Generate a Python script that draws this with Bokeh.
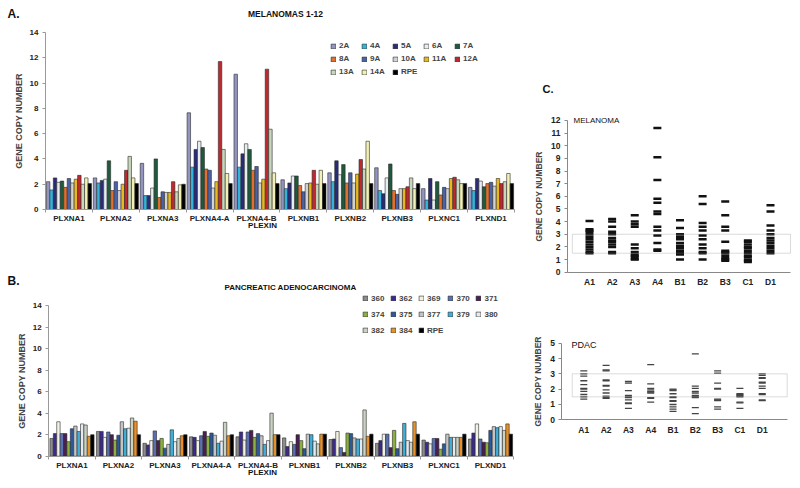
from bokeh.plotting import figure
from bokeh.models import Range1d, Label, BoxAnnotation, FixedTicker, ColumnDataSource
from bokeh.transform import dodge
from bokeh.layouts import row, column
from bokeh.embed import file_html
from bokeh.resources import INLINE

FONT = "Liberation Sans"

# ---------------- Panel A / B categories ----------------
genes = ["PLXNA1", "PLXNA2", "PLXNA3", "PLXNA4-A", "PLXNA4-B",
         "PLXNB1", "PLXNB2", "PLXNB3", "PLXNC1", "PLXND1"]

# ---------------- Panel A: melanomas ----------------
mel_samples = ["2A", "4A", "5A", "6A", "7A", "8A", "9A", "10A", "11A", "12A", "13A", "14A", "RPE"]
mel_colors = ["#9494c0", "#34b4dc", "#2a2c78", "#e6eef2", "#1f5a3c", "#e0702e",
              "#4a62a8", "#d2d2d2", "#e8b820", "#c0282f", "#c8d6bc", "#f2f0b4", "#000000"]
mel_2A = [2.2, 2.5, 3.65, 7.65, 10.7, 2.35, 2.9, 3.3, 1.65, 1.75]
mel_4A = [1.55, 2.1, 1.1, 3.35, 3.35, 1.65, 2.2, 1.5, 0.75, 1.5]
mel_5A = [2.5, 2.3, 1.1, 4.75, 4.4, 2.1, 3.85, 1.25, 2.45, 2.45]
mel_6A = [2.15, 2.4, 1.7, 5.4, 5.2, 2.65, 2.75, 2.5, 0.75, 2.25]
mel_7A = [2.25, 3.85, 4.0, 4.9, 4.75, 2.65, 3.55, 3.6, 2.2, 1.8]
mel_8A = [1.75, 1.5, 0.95, 3.2, 3.1, 1.9, 2.1, 1.5, 1.15, 2.05]
mel_9A = [2.45, 2.2, 1.4, 3.1, 3.4, 1.4, 2.9, 1.2, 1.75, 2.15]
mel_10A = [2.1, 1.5, 1.35, 1.7, 2.1, 2.05, 2.1, 1.65, 1.65, 1.85]
mel_11A = [2.4, 2.0, 1.35, 2.2, 2.4, 2.1, 2.8, 1.65, 2.45, 2.45]
mel_12A = [2.7, 3.1, 2.2, 11.7, 11.1, 3.1, 3.95, 1.8, 2.55, 2.05]
mel_13A = [2.0, 4.2, 1.4, 4.75, 6.35, 2.0, 3.2, 2.5, 2.35, 2.2]
mel_14A = [2.5, 2.5, 1.95, 2.85, 2.9, 3.1, 5.4, 1.65, 2.05, 2.85]
mel_RPE = [2.05, 2.05, 2.0, 2.05, 2.05, 2.05, 2.05, 2.05, 2.05, 2.05]
mel_values = [mel_2A, mel_4A, mel_5A, mel_6A, mel_7A, mel_8A, mel_9A,
              mel_10A, mel_11A, mel_12A, mel_13A, mel_14A, mel_RPE]

# ---------------- Panel B: pancreatic adenocarcinoma ----------------
pdac_samples = ["360", "362", "369", "370", "371", "374", "375", "377", "379", "380", "382", "384", "RPE"]
pdac_colors = ["#8c8c8c", "#3c2a8e", "#f2f2e4", "#5a70b0", "#4a2050", "#8cb040",
               "#2a5a9c", "#c4c4c4", "#40b0d8", "#e2eaf2", "#cad2c2", "#e8902a", "#000000"]
pdac_360 = [1.65, 2.3, 1.2, 1.8, 1.8, 1.7, 1.55, 1.2, 1.5, 1.6]
pdac_362 = [2.1, 2.3, 1.05, 1.75, 2.25, 0.9, 1.6, 1.45, 1.3, 2.15]
pdac_369 = [3.2, 1.75, 1.45, 1.45, 1.5, 1.35, 2.3, 2.05, 1.15, 3.0]
pdac_370 = [2.1, 2.25, 2.35, 1.9, 2.25, 1.1, 0.8, 2.05, 1.65, 1.6]
pdac_371 = [2.1, 2.0, 1.45, 2.3, 2.4, 2.0, 0.35, 0.8, 1.65, 1.3]
pdac_374 = [1.35, 1.5, 1.65, 1.85, 1.75, 1.45, 2.15, 2.4, 0.65, 1.25]
pdac_375 = [2.55, 1.95, 0.75, 2.15, 2.1, 0.7, 2.1, 0.7, 1.15, 2.4]
pdac_377 = [2.8, 3.2, 1.1, 1.95, 1.9, 2.05, 1.7, 1.3, 2.05, 2.75]
pdac_379 = [2.3, 2.55, 2.45, 1.2, 1.1, 2.0, 1.6, 3.05, 1.75, 2.65]
pdac_380 = [3.0, 2.6, 1.35, 1.4, 1.45, 1.4, 1.6, 1.45, 1.75, 2.75]
pdac_382 = [2.9, 3.55, 1.65, 3.15, 4.0, 1.15, 4.3, 1.3, 1.75, 2.4]
pdac_384 = [1.85, 3.25, 1.9, 1.9, 2.0, 2.05, 1.85, 3.2, 1.75, 3.0]
pdac_RPE = [2.0, 2.0, 2.0, 2.0, 2.0, 2.05, 2.05, 2.05, 2.05, 2.05]
pdac_values = [pdac_360, pdac_362, pdac_369, pdac_370, pdac_371, pdac_374, pdac_375,
               pdac_377, pdac_379, pdac_380, pdac_382, pdac_384, pdac_RPE]

# ---------------- Panel C: dash plots ----------------
c_cats = ["A1", "A2", "A3", "A4", "B1", "B2", "B3", "C1", "D1"]
melC_A1 = [4.05, 3.4, 3.3, 3.2, 3.0, 2.8, 2.6, 2.4, 2.2, 2.0, 1.8, 1.6, 1.5]
melC_A2 = [4.2, 4.0, 3.6, 3.2, 3.0, 2.7, 2.5, 2.4, 2.2, 2.0, 1.6, 1.5]
melC_A3 = [4.5, 4.0, 3.8, 3.6, 2.2, 1.9, 1.6, 1.4, 1.3, 1.2, 1.05, 1.0]
melC_A4 = [11.4, 9.1, 7.3, 5.8, 5.5, 4.8, 4.6, 3.6, 3.3, 2.9, 2.3, 1.8, 1.7]
melC_B1 = [4.1, 3.5, 3.0, 2.8, 2.6, 2.3, 2.1, 1.9, 1.7, 1.5, 1.4, 1.0]
melC_B2 = [6.0, 5.4, 3.9, 3.6, 3.3, 2.9, 2.6, 2.2, 1.9, 1.6, 1.5, 1.0]
melC_B3 = [5.6, 4.5, 3.6, 3.3, 2.4, 1.7, 1.6, 1.5, 1.3, 1.1, 1.0, 0.9]
melC_C1 = [2.5, 2.4, 2.2, 2.0, 1.9, 1.7, 1.5, 1.3, 1.2, 1.0, 0.9, 0.8]
melC_D1 = [5.3, 4.8, 3.7, 3.3, 3.0, 2.7, 2.5, 2.3, 2.1, 1.9, 1.7, 1.5]
melC = [melC_A1, melC_A2, melC_A3, melC_A4, melC_B1, melC_B2, melC_B3, melC_C1, melC_D1]

pdacC_A1 = [3.2, 3.0, 2.85, 2.55, 2.3, 2.05, 2.0, 1.85, 1.65, 1.5, 1.35]
pdacC_A2 = [3.55, 3.25, 3.2, 2.6, 2.55, 2.25, 2.2, 1.95, 1.75, 1.55, 1.45, 1.4]
pdacC_A3 = [2.5, 2.4, 1.9, 1.6, 1.5, 1.45, 1.3, 1.1, 1.05, 0.75]
pdacC_A4 = [3.6, 2.35, 2.05, 1.95, 1.85, 1.8, 1.75, 1.45, 1.4, 1.15]
pdacC_B1 = [2.0, 1.95, 1.9, 1.7, 1.5, 1.45, 1.25, 1.2, 1.0, 0.85, 0.7, 0.55]
pdacC_B2 = [4.3, 2.2, 2.05, 1.85, 1.75, 1.6, 1.55, 1.5, 1.45, 0.8, 0.4]
pdacC_B3 = [3.2, 3.05, 2.4, 2.05, 2.0, 1.35, 1.3, 1.25, 0.85, 0.7]
pdacC_C1 = [2.05, 1.7, 1.65, 1.6, 1.55, 1.5, 1.15, 1.1, 0.75]
pdacC_D1 = [3.0, 2.9, 2.75, 2.7, 2.45, 2.4, 2.2, 2.05, 1.7, 1.65, 1.3, 1.25]
pdacC = [pdacC_A1, pdacC_A2, pdacC_A3, pdacC_A4, pdacC_B1, pdacC_B2, pdacC_B3, pdacC_C1, pdacC_D1]

normal_low, normal_high = 1.5, 3.0


def make_fig(width, height, xr, yr):
    p = figure(width=width, height=height, x_range=Range1d(*xr), y_range=Range1d(*yr),
               output_backend="svg", toolbar_location=None,
               min_border_left=0, min_border_right=0, min_border_top=0, min_border_bottom=0)
    p.outline_line_color = None
    p.xgrid.grid_line_color = None
    p.ygrid.grid_line_color = None
    p.background_fill_color = "white"
    p.border_fill_color = "white"
    return p


def add_label(p, x, y, text, size="8px", style="bold", align="left"):
    p.add_layout(Label(x=x, y=y, x_units="screen", y_units="screen", text=text,
                       text_font=FONT, text_font_size=size, text_font_style=style,
                       text_align=align, text_baseline="middle", text_color="#111111"))


def style_axes(p, label_size, axis_color, ylabel_size):
    for ax in (p.xaxis[0], p.yaxis[0]):
        ax.axis_line_color = axis_color
        ax.major_label_text_font = FONT
        ax.major_label_text_font_style = "bold"
        ax.major_label_text_font_size = label_size
        ax.major_label_text_color = "#222222"
    p.yaxis.axis_label = "GENE COPY NUMBER"
    p.yaxis.axis_label_text_font = FONT
    p.yaxis.axis_label_text_font_style = "bold"
    p.yaxis.axis_label_text_font_size = ylabel_size
    p.yaxis.major_tick_out = 3
    p.yaxis.major_tick_in = 0
    p.yaxis.major_tick_line_color = axis_color
    p.yaxis.minor_tick_line_color = None
    p.xaxis.major_tick_line_color = None
    p.xaxis.major_tick_out = 0
    p.xaxis.major_tick_in = 0


def bar_panel(samples, colors, values, height, xr, yr, bar_w):
    p = make_fig(532, height, xr, yr)
    gx = list(range(len(genes)))
    data = {"gx": gx}
    for s, v in zip(samples, values):
        data[s] = v
    src = ColumnDataSource(data)
    n = len(samples)
    for i, (s, c) in enumerate(zip(samples, colors)):
        off = (i - (n - 1) / 2) * bar_w
        p.vbar(x=dodge("gx", off, range=p.x_range), top=s, width=bar_w, source=src,
               fill_color=c, line_color="#2a2a2a", line_width=0.6, legend_label=s)
    p.xaxis.ticker = FixedTicker(ticks=gx, minor_ticks=[g - 0.5 for g in gx] + [gx[-1] + 0.5])
    p.xaxis.major_label_overrides = {g: name for g, name in zip(gx, genes)}
    p.xaxis.fixed_location = 0
    p.xaxis.bounds = (gx[0] - 0.5, gx[-1] + 0.5)
    p.yaxis.ticker = FixedTicker(ticks=[0, 2, 4, 6, 8, 10, 12, 14])
    p.yaxis.fixed_location = gx[0] - 0.5
    p.yaxis.bounds = (0, 14)
    style_axes(p, "8px", "#999999", "9px")
    p.xaxis.minor_tick_out = 3
    p.xaxis.minor_tick_in = 0
    p.xaxis.minor_tick_line_color = "#999999"
    p.xaxis.major_label_standoff = 2
    p.yaxis.major_label_standoff = 4
    p.yaxis.axis_label_standoff = 3
    lg = p.legend[0]
    lg.orientation = "horizontal"
    lg.ncols = 5
    lg.background_fill_alpha = 0
    lg.border_line_color = None
    lg.padding = 0
    lg.margin = 0
    lg.glyph_width = 6
    lg.glyph_height = 6
    lg.label_standoff = 3
    lg.label_text_font = FONT
    lg.label_text_font_style = "bold"
    lg.label_text_font_size = "8px"
    return p


# Panel A  (page 0..532 x 0..240)
pA = bar_panel(mel_samples, mel_colors, mel_values, 240,
               (-1.4595, 9.884), (-2.452, 16.531), 0.074)
pA.legend.spacing = 4
pA.legend.label_height = 9
pA.legend.label_width = 18
pA.legend.location = (330, 164)
add_label(pA, 7, 227, "A.", size="12px")
add_label(pA, 285, 227, "MELANOMAS 1-12", size="8.5px", align="center")
add_label(pA, 262, 15, "PLEXIN", size="8px", align="center")

# Panel B  (page 0..532 x 240..488)
pB = bar_panel(pdac_samples, pdac_colors, pdac_values, 248,
               (-1.5376, 9.903), (-3.0, 20.04), 0.073)
pB.legend.spacing = 4
pB.legend.label_height = 12
pB.legend.label_width = 15
pB.legend.location = (362, 152)
add_label(pB, 7, 208, "B.", size="12px")
add_label(pB, 290, 201, "PANCREATIC ADENOCARCINOMA", size="8px", align="center")
add_label(pB, 262, 16, "PLEXIN", size="8px", align="center")


def dash_panel(height, xr, yr, ymax, ax_left, ax_right, box_left, values, dash_w, dash_h, dash_color):
    p = make_fig(268, height, xr, yr)
    cx = list(range(len(c_cats)))
    xs, ys = [], []
    for x, vals in zip(cx, values):
        xs += [x] * len(vals)
        ys += vals
    p.rect(x=xs, y=ys, width=dash_w, height=dash_h, width_units="screen", height_units="screen",
           fill_color=dash_color, line_color=None)
    p.add_layout(BoxAnnotation(left=box_left, right=ax_right, bottom=normal_low, top=normal_high,
                               fill_alpha=0, line_color="#888888", line_width=1))
    p.xaxis.ticker = FixedTicker(ticks=cx)
    p.xaxis.major_label_overrides = {x: c for x, c in zip(cx, c_cats)}
    p.xaxis.fixed_location = 0
    p.xaxis.bounds = (ax_left, ax_right)
    p.yaxis.ticker = FixedTicker(ticks=list(range(0, ymax + 1)))
    p.yaxis.fixed_location = ax_left
    p.yaxis.bounds = (0, ymax)
    style_axes(p, "8.5px", "#888888", "8.5px")
    p.xaxis.minor_tick_line_color = None
    p.xaxis.major_label_standoff = 5
    p.yaxis.major_label_standoff = 4
    p.yaxis.axis_label_standoff = 4
    return p


# Panel C top (page 532..800 x 0..300)
pC1 = dash_panel(300, (-2.519, 9.326), (-2.239, 21.49), 12, -0.972, 8.884, -0.76,
                 melC, 8, 2.5, "#111111")
add_label(pC1, 10, 212, "C.", size="11px")
add_label(pC1, 41, 180.5, "MELANOMA", size="8px", style="normal")

# Panel C bottom (page 532..800 x 300..488)
pC2 = dash_panel(188, (-2.3004, 9.717), (-4.484, 7.787), 5, -0.978, 9.12, -0.52,
                 pdacC, 7, 1.3, "#444444")
add_label(pC2, 39, 143.5, "PDAC", size="9px", style="normal")

layout = row(column(pA, pB), column(pC1, pC2))

open("out.html", "w").write(file_html(layout, INLINE))
